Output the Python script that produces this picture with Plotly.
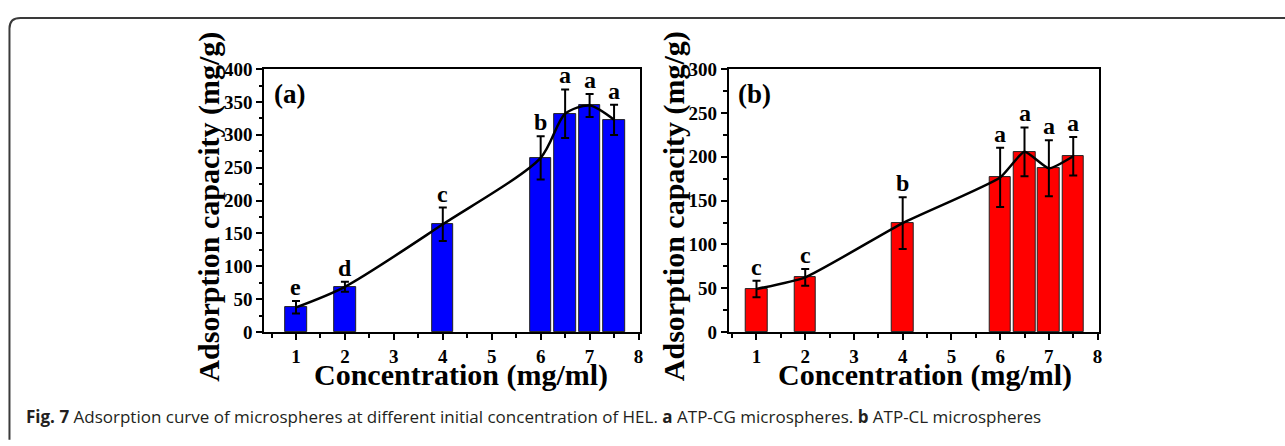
import plotly.graph_objects as go

W, H = 1285, 446

# ---- data ----
conc = [1, 2, 4, 6, 6.5, 7, 7.5]
cap_a = [37.6, 68.9, 163.9, 265, 332, 344.6, 322.9]
err_a = [9.5, 7.7, 25.5, 33, 37, 17.5, 23]
lab_a = ["e", "d", "c", "b", "a", "a", "a"]

cap_b = [49.2, 62.5, 124.3, 176.4, 205.6, 186.8, 200.6]
err_b = [9.4, 9.6, 29.6, 33.8, 27.8, 32, 22]
lab_b = ["c", "c", "b", "a", "a", "a", "a"]

x_title = "Concentration (mg/ml)"
y_title = "Adsorption capacity (mg/g)"
caption = ("<b>Fig. 7</b> Adsorption curve of microspheres at different initial concentration of HEL. "
           "<b>a</b> ATP-CG microspheres. <b>b</b> ATP-CL microspheres")

SERIF = "Liberation Serif, Times New Roman, serif"


def px_x(p):
    return p / W


def px_y(p):
    return 1 - p / H


fig = go.Figure()

panels = [
    dict(xa="x", ya="y", caps=cap_a, errs=err_a, labs=lab_a, color="#0000FF",
         smooth=0.8, tag="(a)"),
    dict(xa="x2", ya="y2", caps=cap_b, errs=err_b, labs=lab_b, color="#FF0000",
         smooth=0.5, tag="(b)"),
]

for p in panels:
    fig.add_trace(go.Bar(
        x=conc, y=p["caps"], width=0.44, xaxis=p["xa"], yaxis=p["ya"],
        marker=dict(color=p["color"], line=dict(color="#222222", width=1)),
        error_y=dict(type="data", array=p["errs"], visible=True,
                     color="black", thickness=2, width=4),
        showlegend=False,
    ))
    fig.add_trace(go.Scatter(
        x=conc, y=p["caps"], mode="lines", xaxis=p["xa"], yaxis=p["ya"],
        line=dict(color="black", width=2.5, shape="spline", smoothing=p["smooth"]),
        showlegend=False,
    ))
    for xv, yv, ev, t in zip(conc, p["caps"], p["errs"], p["labs"]):
        fig.add_annotation(
            x=xv, y=yv + ev, xref=p["xa"], yref=p["ya"], text=f"<b>{t}</b>",
            showarrow=False, yanchor="bottom", yshift=-1,
            font=dict(family=SERIF, size=24, color="black"),
        )
    fig.add_annotation(
        x=0.02, y=0.905, xref=p["xa"] + " domain", yref=p["ya"] + " domain",
        text=f"<b>{p['tag']}</b>", showarrow=False, xanchor="left", yanchor="middle",
        font=dict(family=SERIF, size=27, color="black"),
    )

axis_common = dict(
    showline=True, linewidth=2, linecolor="black", mirror=True,
    ticks="outside", ticklen=6, tickwidth=2, tickcolor="black",
    showgrid=False, zeroline=False,
    tickfont=dict(family=SERIF, size=19, color="black", weight="bold"),
)
minor_common = dict(ticks="outside", ticklen=3.5, tickwidth=1.5, tickcolor="black")

y0, y1 = px_y(338), px_y(62)

fig.update_layout(
    width=W, height=H, autosize=False,
    margin=dict(l=0, r=0, t=0, b=0),
    paper_bgcolor="white", plot_bgcolor="white",
    bargap=0,
    xaxis=dict(domain=[px_x(265), px_x(642)], range=[0.35, 8.03], anchor="y",
               tickmode="linear", tick0=0, dtick=1,
               minor=dict(dtick=0.5, tick0=0, **minor_common), **axis_common),
    yaxis=dict(domain=[y0, y1], range=[0, 400], anchor="x",
               tickmode="linear", tick0=0, dtick=50,
               minor=dict(dtick=25, tick0=0, **minor_common), **axis_common),
    xaxis2=dict(domain=[px_x(731), px_x(1102)], range=[0.43, 8.02], anchor="y2",
                tickmode="linear", tick0=0, dtick=1,
                minor=dict(dtick=0.5, tick0=0, **minor_common), **axis_common),
    yaxis2=dict(domain=[y0, y1], range=[0, 300], anchor="x2",
                tickmode="linear", tick0=0, dtick=50,
                minor=dict(dtick=25, tick0=0, **minor_common), **axis_common),
)

# axis titles as annotations (pixel-placed)
for xc in (462, 928):
    fig.add_annotation(x=px_x(xc), y=px_y(383), xref="paper", yref="paper",
                       text=f"<b>{x_title}</b>", showarrow=False, borderpad=0,
                       xanchor="center", yanchor="middle",
                       font=dict(family=SERIF, size=30, color="black"))
for xc in (210, 676):
    fig.add_annotation(x=px_x(xc), y=px_y(206), xref="paper", yref="paper",
                       text=f"<b>{y_title}</b>", showarrow=False, textangle=-90,
                       borderpad=0, xanchor="center", yanchor="middle",
                       font=dict(family=SERIF, size=30, color="black"))

# caption
fig.add_annotation(x=px_x(24), y=px_y(427), xref="paper", yref="paper",
                   text=caption, showarrow=False, xanchor="left", yanchor="middle",
                   font=dict(family="Open Sans, Noto Sans, sans-serif", size=17, color="#231f20"))

# rounded border (top-left corner, open to right and bottom)
bx, by, r = 9.5, 8.5, 11
path = (f"M {px_x(bx)},{px_y(H + 5)} L {px_x(bx)},{px_y(by + r)} "
        f"Q {px_x(bx)},{px_y(by)} {px_x(bx + r)},{px_y(by)} L {px_x(W + 5)},{px_y(by)}")
fig.add_shape(type="path", path=path, xref="paper", yref="paper",
              line=dict(color="#3a3a3a", width=2))

fig.write_html(
    "out.html",
    config={"displayModeBar": False, "responsive": False},
    post_script="document.body.style.margin='0';document.body.style.overflow='hidden';",
)
